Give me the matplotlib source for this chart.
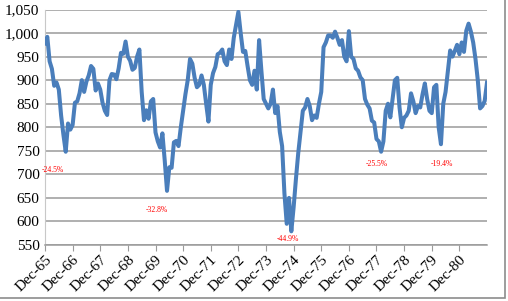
import matplotlib
matplotlib.use("Agg")
import matplotlib.pyplot as plt
from matplotlib.patches import Rectangle

# Dow level, one value per month, Dec 1965 .. Dec 1981
dow = [
    978, 992, 940, 924, 888, 895, 880, 825, 784, 748, 808, 795,          # Dec65-Nov66
    805, 852, 855, 872, 900, 875, 897, 910, 930, 924, 878, 893,          # Dec66-Nov67
    880, 852, 835, 826, 900, 913, 912, 902, 925, 958, 956, 982,          # Dec67-Nov68
    950, 941, 922, 926, 950, 965, 875, 815, 836, 818, 855, 860,          # Dec68-Nov69
    789, 770, 757, 787, 730, 665, 715, 714, 768, 771, 760, 800,          # Dec69-Nov70
    835, 870, 900, 945, 935, 905, 885, 890, 910, 890, 850, 812,          # Dec70-Nov71
    890, 915, 928, 955, 958, 965, 940, 932, 965, 945, 990, 1018,         # Dec71-Nov72
    1045, 1000, 960, 962, 930, 900, 890, 920, 880, 985, 920, 860,        # Dec72-Nov73
    850, 840, 850, 880, 830, 845, 790, 760, 660, 595, 650, 579,          # Dec73-Nov74
    630, 690, 745, 790, 835, 842, 860, 845, 815, 825, 820, 850,          # Dec74-Nov75
    875, 970, 980, 995, 995, 990, 1003, 990, 975, 985, 950, 940,         # Dec75-Nov76
    1004, 950, 945, 925, 920, 906, 900, 860, 848, 840, 814, 810,         # Dec76-Nov77
    775, 770, 748, 770, 835, 850, 821, 860, 900, 905, 842, 800,          # Dec77-Nov78
    820, 825, 835, 872, 855, 830, 845, 842, 870, 893, 860, 835,          # Dec78-Nov79
    830, 885, 890, 800, 764, 850, 875, 920, 963, 950, 962, 975,          # Dec79-Nov80
    955, 980, 960, 1005, 1020, 1003, 980, 945, 900, 840, 845, 856,       # Dec80-Nov81
    895,                                                                 # Dec81
]
tick_labels = ["Dec-65", "Dec-66", "Dec-67", "Dec-68", "Dec-69", "Dec-70", "Dec-71", "Dec-72",
               "Dec-73", "Dec-74", "Dec-75", "Dec-76", "Dec-77", "Dec-78", "Dec-79", "Dec-80"]

# drawdown labels: (month index, level, text)
drop_month = [3.5, 48.7, 105.3, 144, 172.6]
drop_level = [710, 624, 562, 722, 722]
drop_text = ["-24.5%", "-32.8%", "-44.9%", "-25.5%", "-19.4%"]

fig = plt.figure(figsize=(5.08, 3.01), dpi=100)
ax = fig.add_axes([45/508, 1 - 245/301, (487 - 45)/508, (245 - 9.5)/301])

ax.plot(range(len(dow)), dow, color="#4a7ebb", lw=2.9, solid_joinstyle="round", zorder=3)

ax.set_ylim(550, 1050)
ax.set_xlim(0, len(dow) - 1)
ax.set_yticks(range(550, 1051, 50))
ax.set_yticklabels([f"{v:,}" for v in range(550, 1051, 50)], fontsize=11,
                   family="Liberation Serif")
ax.yaxis.grid(True, color="#9a9a9a", lw=1.1)
ax.set_axisbelow(True)

ax.set_xticks(range(0, 12 * len(tick_labels), 12))
ax.set_xticklabels(tick_labels, rotation=45, ha="right", va="top", rotation_mode="anchor",
                   fontsize=11, family="Liberation Serif")

for side in ["top", "right"]:
    ax.spines[side].set_visible(False)
ax.spines["left"].set_color("#c8c8c8")
ax.spines["bottom"].set_color("#9a9a9a")
ax.spines["bottom"].set_linewidth(1.1)
ax.tick_params(axis="y", length=0, pad=4)
ax.tick_params(axis="x", length=4, color="#9a9a9a", pad=2)

for m, lv, t in zip(drop_month, drop_level, drop_text):
    ax.text(m, lv, t, color="red", fontsize=5.5, family="Liberation Serif",
            ha="center", va="center")

# chart area border (left/top cut off in the original)
fig.patches.append(Rectangle((-0.05, 1 - 298/301), 505/508 + 0.05, 1.1,
                             transform=fig.transFigure, fill=False,
                             edgecolor="#8c8c8c", lw=1.2))

fig.savefig("out.png", dpi=100)
